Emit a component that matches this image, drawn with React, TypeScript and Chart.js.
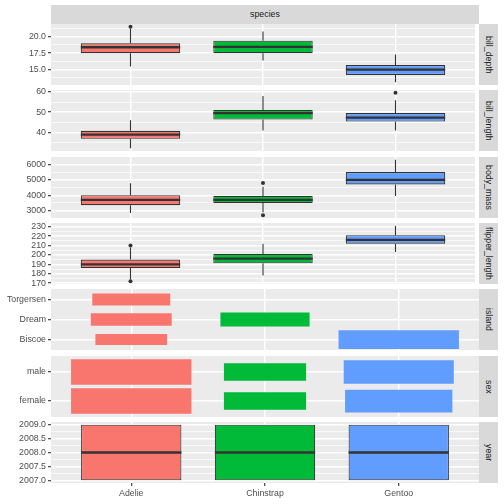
import React, { useEffect, useRef } from 'react';
import { Chart, registerables } from 'chart.js';

Chart.register(...registerables);
Chart.defaults.font.family = '"Liberation Sans", Arial, sans-serif';

// ---------------- data ----------------
const SPECIES = ['Adelie', 'Chinstrap', 'Gentoo'];
const SPECIES_COLORS = ['#F8766D', '#00BA38', '#619CFF'];

// box statistics per species: [lower whisker, Q1, median, Q3, upper whisker]
const BILL_DEPTH_STATS = [
  [15.5, 17.5, 18.4, 19.0, 21.2],
  [16.4, 17.5, 18.45, 19.4, 20.8],
  [13.1, 14.2, 15.0, 15.7, 17.3],
];
const BILL_DEPTH_OUTLIERS = [[21.5], [], []];
const BILL_DEPTH_TICKS = [15, 17.5, 20];
const BILL_DEPTH_TICK_LABELS = ['15.0', '17.5', '20.0'];

const BILL_LENGTH_STATS = [
  [32.1, 36.75, 38.8, 40.75, 46.0],
  [40.9, 46.35, 49.55, 51.08, 58.0],
  [40.9, 45.3, 47.3, 49.55, 55.9],
];
const BILL_LENGTH_OUTLIERS = [[], [], [59.6]];
const BILL_LENGTH_TICKS = [40, 50, 60];
const BILL_LENGTH_TICK_LABELS = ['40', '50', '60'];

const BODY_MASS_STATS = [
  [2850, 3350, 3700, 4000, 4775],
  [2900, 3487.5, 3700, 3950, 4550],
  [3950, 4700, 5000, 5500, 6300],
];
const BODY_MASS_OUTLIERS = [[], [2700, 4800], []];
const BODY_MASS_TICKS = [3000, 4000, 5000, 6000];
const BODY_MASS_TICK_LABELS = ['3000', '4000', '5000', '6000'];

const FLIPPER_STATS = [
  [174, 186, 190, 195, 208],
  [178, 191, 196, 201, 212],
  [203, 212, 216, 221, 231],
];
const FLIPPER_OUTLIERS = [[172, 210], [], []];
const FLIPPER_TICKS = [170, 180, 190, 200, 210, 220, 230];
const FLIPPER_TICK_LABELS = ['170', '180', '190', '200', '210', '220', '230'];

const ISLANDS = ['Biscoe', 'Dream', 'Torgersen'];
// counts per species, per island
const ISLAND_COUNTS = [
  [44, 56, 52],
  [0, 68, 0],
  [124, 0, 0],
];

const SEXES = ['female', 'male'];
// counts per species, per sex
const SEX_COUNTS = [
  [73, 73],
  [34, 34],
  [58, 61],
];

const YEAR_STATS = [
  [2007, 2007, 2008, 2009, 2009],
  [2007, 2007, 2008, 2009, 2009],
  [2007, 2007, 2008, 2009, 2009],
];
const YEAR_OUTLIERS = [[], [], []];
const YEAR_TICKS = [2007, 2007.5, 2008, 2008.5, 2009];
const YEAR_TICK_LABELS = ['2007.0', '2007.5', '2008.0', '2008.5', '2009.0'];

// ---------------- panels ----------------
type BoxPanel = {
  kind: 'box';
  strip: string;
  stats: number[][];
  outliers: number[][];
  ticks: number[];
  tickLabels: string[];
};
type CountPanel = {
  kind: 'count';
  strip: string;
  levels: string[];
  counts: number[][];
  expand: number;
  heightFrac: number;
};
type Panel = BoxPanel | CountPanel;

const PANELS: Panel[] = [
  { kind: 'box', strip: 'bill_depth', stats: BILL_DEPTH_STATS, outliers: BILL_DEPTH_OUTLIERS, ticks: BILL_DEPTH_TICKS, tickLabels: BILL_DEPTH_TICK_LABELS },
  { kind: 'box', strip: 'bill_length', stats: BILL_LENGTH_STATS, outliers: BILL_LENGTH_OUTLIERS, ticks: BILL_LENGTH_TICKS, tickLabels: BILL_LENGTH_TICK_LABELS },
  { kind: 'box', strip: 'body_mass', stats: BODY_MASS_STATS, outliers: BODY_MASS_OUTLIERS, ticks: BODY_MASS_TICKS, tickLabels: BODY_MASS_TICK_LABELS },
  { kind: 'box', strip: 'flipper_length', stats: FLIPPER_STATS, outliers: FLIPPER_OUTLIERS, ticks: FLIPPER_TICKS, tickLabels: FLIPPER_TICK_LABELS },
  { kind: 'count', strip: 'island', levels: ISLANDS, counts: ISLAND_COUNTS, expand: 0.52, heightFrac: 0.93 },
  { kind: 'count', strip: 'sex', levels: SEXES, counts: SEX_COUNTS, expand: 0.55, heightFrac: 0.88 },
  { kind: 'box', strip: 'year', stats: YEAR_STATS, outliers: YEAR_OUTLIERS, ticks: YEAR_TICKS, tickLabels: YEAR_TICK_LABELS },
];

// ---------------- layout / style ----------------
const W = 504;
const PANEL_LEFT = 51;
const PANEL_RIGHT = 479;
const STRIP_W = 19;
const PANEL_TOPS = [24, 90, 157, 223, 289, 356, 422];
const PANEL_H = 61;
const PAD = 6;
const TOP_STRIP = { top: 5, height: 19 };
const BOX_WIDTH = 0.75;
const COUNT_MAX_SIZE = 0.9;
const FONT_SIZE = 8.8;
const AXIS_TEXT = '#4D4D4D';
const DARK = '#333333';
const FONT_FAMILY = '"Liberation Sans", Arial, sans-serif';

const panelBg = {
  id: 'panelBg',
  beforeDraw(chart: any) {
    const { ctx, chartArea } = chart;
    ctx.save();
    ctx.fillStyle = '#EBEBEB';
    ctx.fillRect(chartArea.left, chartArea.top, chartArea.right - chartArea.left, chartArea.bottom - chartArea.top);
    ctx.restore();
  },
};

function boxYTicks(p: BoxPanel, min: number, max: number) {
  const majors = p.ticks.map((v, i) => ({ value: v, lbl: p.tickLabels[i], minorTick: false }));
  const step = p.ticks.length > 1 ? p.ticks[1] - p.ticks[0] : 1;
  const minors: number[] = [];
  const first = p.ticks[0] - step / 2;
  if (first >= min) minors.push(first);
  for (let i = 0; i < p.ticks.length - 1; i++) minors.push((p.ticks[i] + p.ticks[i + 1]) / 2);
  const last = p.ticks[p.ticks.length - 1] + step / 2;
  if (last <= max) minors.push(last);
  const all = majors.concat(minors.map((v) => ({ value: v, lbl: '', minorTick: true })));
  all.sort((a, b) => a.value - b.value);
  return all;
}

function buildConfig(p: Panel, isLast: boolean, bottomAxisH: number) {
  let datasets: any[] = [];
  let yMin = 0;
  let yMax = 1;
  let yTicks: any[] = [];

  if (p.kind === 'box') {
    const values: number[] = [];
    p.stats.forEach((s) => values.push(...s));
    p.outliers.forEach((o) => values.push(...o));
    const lo = Math.min(...values);
    const hi = Math.max(...values);
    const ex = (hi - lo) * 0.05;
    yMin = lo - ex;
    yMax = hi + ex;
    yTicks = boxYTicks(p, yMin, yMax);

    datasets = [
      {
        type: 'bar',
        data: p.stats.map((s, i) => ({ x: i, y: [s[1], s[3]] })),
        backgroundColor: SPECIES_COLORS,
        borderColor: DARK,
        borderWidth: 1.1,
        borderSkipped: false,
        barPercentage: BOX_WIDTH,
        categoryPercentage: 1,
        order: 3,
      },
      {
        type: 'line',
        data: p.stats.flatMap((s, i) => [
          { x: i, y: s[0] }, { x: i, y: s[1] }, { x: i, y: null },
          { x: i, y: s[3] }, { x: i, y: s[4] }, { x: i, y: null },
        ]),
        borderColor: DARK,
        borderWidth: 1.1,
        pointRadius: 0,
        spanGaps: false,
        order: 2,
      },
      {
        type: 'line',
        data: p.stats.flatMap((s, i) => [
          { x: i - BOX_WIDTH / 2, y: s[2] }, { x: i + BOX_WIDTH / 2, y: s[2] }, { x: i, y: null },
        ]),
        borderColor: DARK,
        borderWidth: 2.3,
        borderCapStyle: 'butt',
        pointRadius: 0,
        spanGaps: false,
        order: 1,
      },
      {
        type: 'line',
        showLine: false,
        data: p.outliers.flatMap((o, i) => o.map((v) => ({ x: i, y: v }))),
        pointRadius: 2,
        pointBackgroundColor: DARK,
        pointBorderWidth: 0,
        order: 0,
      },
    ];
  } else {
    const n = p.levels.length;
    yMin = -p.expand;
    yMax = n - 1 + p.expand;
    yTicks = p.levels.map((l, i) => ({ value: i, lbl: l, minorTick: false }));
    let maxCount = 0;
    p.counts.forEach((row) => row.forEach((c) => (maxCount = Math.max(maxCount, c))));
    p.counts.forEach((row, i) => {
      row.forEach((c, j) => {
        if (!c) return;
        const f = Math.sqrt(c / maxCount);
        const h = p.heightFrac * f;
        datasets.push({
          type: 'bar',
          data: [{ x: i, y: [j - h / 2, j + h / 2] }],
          backgroundColor: SPECIES_COLORS[i],
          borderWidth: 0,
          barPercentage: COUNT_MAX_SIZE * f,
          categoryPercentage: 1,
          grouped: false,
        });
      });
    });
  }

  const tickFont = { size: FONT_SIZE, family: FONT_FAMILY };

  return {
    type: 'bar',
    data: { datasets },
    plugins: [panelBg],
    options: {
      animation: false,
      responsive: false,
      devicePixelRatio: 1,
      indexAxis: 'x',
      layout: { padding: { left: 0, right: 0, top: PAD, bottom: isLast ? 0 : PAD } },
      plugins: { legend: { display: false }, tooltip: { enabled: false } },
      events: [],
      scales: {
        x: {
          type: 'linear',
          min: -0.6,
          max: SPECIES.length - 1 + 0.6,
          bounds: 'data',
          offset: false,
          afterBuildTicks: (s: any) => {
            s.ticks = SPECIES.map((_, i) => ({ value: i }));
          },
          ticks: {
            display: isLast,
            autoSkip: false,
            maxRotation: 0,
            padding: 2,
            color: AXIS_TEXT,
            font: tickFont,
            callback: (_v: any, i: number) => SPECIES[i],
          },
          grid: {
            offset: false,
            color: '#FFFFFF',
            lineWidth: 1.4,
            drawTicks: isLast,
            tickLength: 3,
            tickColor: DARK,
            tickWidth: 1.1,
          },
          border: { display: false },
          afterFit: (s: any) => {
            s.paddingLeft = 0;
            s.paddingRight = 0;
            s.height = isLast ? bottomAxisH : 0;
          },
        },
        y: {
          type: 'linear',
          position: 'left',
          min: yMin,
          max: yMax,
          bounds: 'data',
          offset: false,
          afterBuildTicks: (s: any) => {
            s.ticks = yTicks.map((t) => ({ ...t }));
          },
          ticks: {
            autoSkip: false,
            padding: 2,
            color: AXIS_TEXT,
            font: tickFont,
            callback: (_v: any, i: number, ticks: any[]) => (ticks[i] && ticks[i].lbl) || '',
          },
          grid: {
            offset: false,
            color: '#FFFFFF',
            lineWidth: (ctx: any) => (ctx.tick && ctx.tick.minorTick ? 0.7 : 1.4),
            drawTicks: true,
            tickLength: 3,
            tickColor: (ctx: any) => (ctx.tick && ctx.tick.minorTick ? 'rgba(0,0,0,0)' : DARK),
            tickWidth: 1.1,
          },
          border: { display: false },
          afterFit: (s: any) => {
            s.width = PANEL_LEFT;
            s.paddingTop = 0;
            s.paddingBottom = 0;
          },
        },
      },
    },
  };
}

function PanelChart({ panel, idx }: { panel: Panel; idx: number }) {
  const ref = useRef<HTMLCanvasElement>(null);
  const isLast = idx === PANELS.length - 1;
  const top = PANEL_TOPS[idx];
  const canvasTop = top - PAD;
  const canvasH = isLast ? W - canvasTop : PANEL_H + 2 * PAD;
  const bottomAxisH = canvasH - PAD - PANEL_H;

  useEffect(() => {
    if (!ref.current) return;
    const chart = new Chart(ref.current, buildConfig(panel, isLast, bottomAxisH) as any);
    return () => chart.destroy();
  }, []);

  return (
    <canvas
      ref={ref}
      width={PANEL_RIGHT}
      height={canvasH}
      style={{ position: 'absolute', left: 0, top: canvasTop, width: PANEL_RIGHT, height: canvasH, display: 'block' }}
    />
  );
}

export default function App() {
  const stripText: React.CSSProperties = {
    fontFamily: FONT_FAMILY,
    fontSize: FONT_SIZE,
    color: '#1A1A1A',
    background: '#D9D9D9',
    position: 'absolute',
    display: 'flex',
    alignItems: 'center',
    justifyContent: 'center',
    lineHeight: 1,
    whiteSpace: 'nowrap',
  };
  return (
    <div style={{ position: 'absolute', left: 0, top: 0, width: W, height: W, background: '#FFFFFF', overflow: 'hidden' }}>
      <div style={{ ...stripText, left: PANEL_LEFT, top: TOP_STRIP.top, width: PANEL_RIGHT - PANEL_LEFT, height: TOP_STRIP.height }}>
        species
      </div>
      {PANELS.map((p, i) => (
        <PanelChart key={p.strip} panel={p} idx={i} />
      ))}
      {PANELS.map((p, i) => (
        <div
          key={'strip-' + p.strip}
          style={{ ...stripText, left: PANEL_RIGHT, top: PANEL_TOPS[i], width: STRIP_W, height: PANEL_H }}
        >
          <span style={{ writingMode: 'vertical-rl' }}>{p.strip}</span>
        </div>
      ))}
    </div>
  );
}
